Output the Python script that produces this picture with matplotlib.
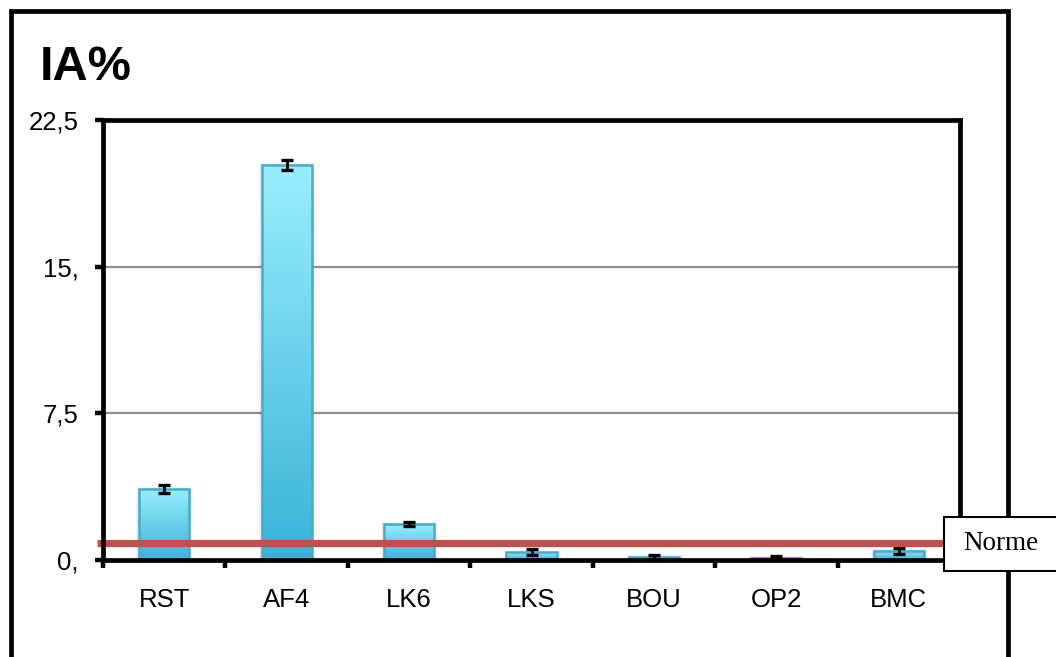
import numpy as np
import matplotlib
matplotlib.use("Agg")
import matplotlib.pyplot as plt
from matplotlib.patches import Rectangle
from matplotlib.lines import Line2D
from matplotlib.colors import LinearSegmentedColormap

categories = ["RST", "AF4", "LK6", "LKS", "BOU", "OP2", "BMC"]
values = [3.65, 20.2, 1.84, 0.40, 0.17, 0.12, 0.47]
errors = [0.20, 0.26, 0.12, 0.16, 0.10, 0.09, 0.15]
norme = 0.85
yticks = [0, 7.5, 15, 22.5]
ytick_labels = ["0,", "7,5", "15,", "22,5"]

W, H = 1056, 657
fig = plt.figure(figsize=(W / 100, H / 100), dpi=100)
fig.patch.set_facecolor("white")
plt.rcParams['font.family'] = ['Liberation Sans', 'DejaVu Sans']

ax = fig.add_axes([103 / W, 1 - 560 / H, (960 - 103) / W, (560 - 120) / H])
ax.set_xlim(-0.5, len(categories) - 0.5)
ax.set_ylim(0, 22.5)

# gridlines
for yv in yticks[1:-1]:
    ax.axhline(yv, color="#8c8c8c", lw=1.6, zorder=1)

cmap = LinearSegmentedColormap.from_list("g", ["#38b3d7", "#9aeefd"])
grad = np.linspace(0, 1, 256).reshape(-1, 1)
bw = 0.41
x = np.arange(len(categories))
for xi, v in zip(x, values):
    # soft shadow
    for k, a in enumerate([0.06, 0.05, 0.04]):
        d = 0.012 * (k + 1)
        ax.add_patch(Rectangle((xi - bw / 2 - d * 0.6, 0), bw + 2 * d * 0.6, v + d * 2.2,
                               facecolor="black", edgecolor="none", alpha=a, zorder=1.5))
    ax.imshow(grad, extent=[xi - bw / 2, xi + bw / 2, 0, v], origin="lower",
              aspect="auto", cmap=cmap, interpolation="bicubic", zorder=2)
    ax.add_patch(Rectangle((xi - bw / 2, 0), bw, v, facecolor="none",
                           edgecolor="#4aabc8", lw=1.8, zorder=3))

ax.errorbar(x, values, yerr=errors, fmt="none", ecolor="black", elinewidth=2.0,
            capsize=4.5, capthick=2.4, zorder=4)

ax.set_xlim(-0.5, len(categories) - 0.5)
ax.set_ylim(0, 22.5)

# norme line
ax.plot([-0.55, 8.0], [norme, norme], color="#c0504d", lw=5.2, clip_on=False, zorder=5,
        solid_capstyle="butt")

for s in ax.spines.values():
    s.set_linewidth(3.4)
    s.set_color("black")
    s.set_zorder(6)

ax.set_yticks(yticks)
ax.set_yticklabels(ytick_labels)
ax.set_xticks(np.arange(len(categories) + 1) - 0.5, minor=False)
ax.set_xticklabels([""] * (len(categories) + 1))
ax.set_xticks(x, minor=True)
ax.set_xticklabels(categories, minor=True)
ax.tick_params(axis="x", which="major", direction="out", length=5.5, width=3.2, color="black")
ax.tick_params(axis="x", which="minor", length=0, pad=20, labelsize=18.5)
ax.tick_params(axis="y", direction="out", length=5.5, width=3.2, pad=12, labelsize=18.5)

# title
fig.text(40 / W, 1 - 80 / H, "IA%", fontsize=35, fontweight="bold", ha="left", va="baseline")

# outer frame (left, top, right)
fig.add_artist(Line2D([10.5 / W, 10.5 / W, 1008 / W, 1008 / W],
                      [-0.05, 1 - 11 / H, 1 - 11 / H, -0.05],
                      color="black", lw=3.4, transform=fig.transFigure, zorder=1,
                      solid_joinstyle="miter"))

# Norme box
fig.add_artist(Rectangle((944 / W, 1 - 571 / H), 0.2, (571 - 517) / H,
                         transform=fig.transFigure, facecolor="white",
                         edgecolor="black", lw=1.5, zorder=10))
fig.text(1001 / W, 1 - 544 / H, "Norme", fontsize=19.5, family=["Liberation Serif"],
         ha="center", va="center", zorder=11)

fig.savefig("out.png", dpi=100)
